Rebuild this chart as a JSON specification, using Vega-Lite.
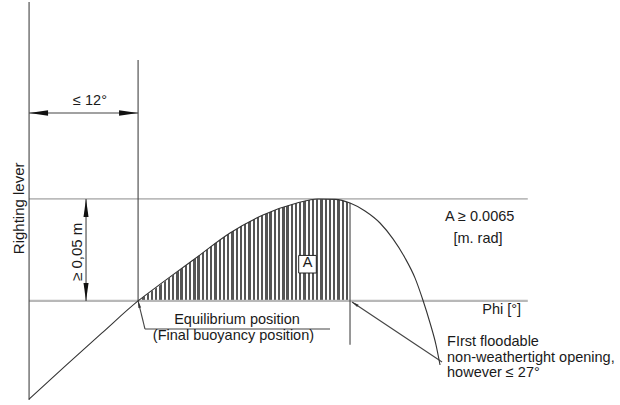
{
  "$schema": "https://vega.github.io/schema/vega-lite/v6.json",
  "width": 620,
  "height": 405,
  "autosize": {"type": "fit", "contains": "padding"},
  "padding": 0,
  "background": "white",
  "config": {"view": {"stroke": null}, "font": "Liberation Sans"},
  "encoding": {
    "x": {"field": "phi", "type": "quantitative", "scale": {"domain": [-3.2, 65.05], "nice": false, "zero": false}, "axis": null},
    "y": {"field": "gz", "type": "quantitative", "scale": {"domain": [-0.051, 0.1475], "nice": false, "zero": false}, "axis": null}
  },
  "layer": [
    {
      "data": {"values": [
        {"phi": 12, "gz": 0}, {"phi": 14.74, "gz": 0.0088}, {"phi": 18.49, "gz": 0.0215}, {"phi": 22.12, "gz": 0.0333},
        {"phi": 25.75, "gz": 0.0421}, {"phi": 29.49, "gz": 0.048}, {"phi": 31.8, "gz": 0.05}, {"phi": 33.68, "gz": 0.0498}, {"phi": 35.33, "gz": 0.048}
      ]},
      "mark": {"type": "area", "interpolate": "monotone", "color": {"gradient": "linear", "x1": 0, "y1": 0, "x2": 1, "y2": 0, "stops": [
        {"offset":0,"color":"#555"},{"offset":0.011,"color":"#555"},{"offset":0.011,"color":"#fff"},{"offset":0.02,"color":"#fff"},
        {"offset":0.02,"color":"#555"},{"offset":0.031,"color":"#555"},{"offset":0.031,"color":"#fff"},{"offset":0.04,"color":"#fff"},
        {"offset":0.04,"color":"#555"},{"offset":0.051,"color":"#555"},{"offset":0.051,"color":"#fff"},{"offset":0.06,"color":"#fff"},
        {"offset":0.06,"color":"#555"},{"offset":0.071,"color":"#555"},{"offset":0.071,"color":"#fff"},{"offset":0.08,"color":"#fff"},
        {"offset":0.08,"color":"#555"},{"offset":0.091,"color":"#555"},{"offset":0.091,"color":"#fff"},{"offset":0.1,"color":"#fff"},
        {"offset":0.1,"color":"#555"},{"offset":0.111,"color":"#555"},{"offset":0.111,"color":"#fff"},{"offset":0.12,"color":"#fff"},
        {"offset":0.12,"color":"#555"},{"offset":0.131,"color":"#555"},{"offset":0.131,"color":"#fff"},{"offset":0.14,"color":"#fff"},
        {"offset":0.14,"color":"#555"},{"offset":0.151,"color":"#555"},{"offset":0.151,"color":"#fff"},{"offset":0.16,"color":"#fff"},
        {"offset":0.16,"color":"#555"},{"offset":0.171,"color":"#555"},{"offset":0.171,"color":"#fff"},{"offset":0.18,"color":"#fff"},
        {"offset":0.18,"color":"#555"},{"offset":0.191,"color":"#555"},{"offset":0.191,"color":"#fff"},{"offset":0.2,"color":"#fff"},
        {"offset":0.2,"color":"#555"},{"offset":0.211,"color":"#555"},{"offset":0.211,"color":"#fff"},{"offset":0.22,"color":"#fff"},
        {"offset":0.22,"color":"#555"},{"offset":0.231,"color":"#555"},{"offset":0.231,"color":"#fff"},{"offset":0.24,"color":"#fff"},
        {"offset":0.24,"color":"#555"},{"offset":0.251,"color":"#555"},{"offset":0.251,"color":"#fff"},{"offset":0.26,"color":"#fff"},
        {"offset":0.26,"color":"#555"},{"offset":0.271,"color":"#555"},{"offset":0.271,"color":"#fff"},{"offset":0.28,"color":"#fff"},
        {"offset":0.28,"color":"#555"},{"offset":0.291,"color":"#555"},{"offset":0.291,"color":"#fff"},{"offset":0.3,"color":"#fff"},
        {"offset":0.3,"color":"#555"},{"offset":0.311,"color":"#555"},{"offset":0.311,"color":"#fff"},{"offset":0.32,"color":"#fff"},
        {"offset":0.32,"color":"#555"},{"offset":0.331,"color":"#555"},{"offset":0.331,"color":"#fff"},{"offset":0.34,"color":"#fff"},
        {"offset":0.34,"color":"#555"},{"offset":0.351,"color":"#555"},{"offset":0.351,"color":"#fff"},{"offset":0.36,"color":"#fff"},
        {"offset":0.36,"color":"#555"},{"offset":0.371,"color":"#555"},{"offset":0.371,"color":"#fff"},{"offset":0.38,"color":"#fff"},
        {"offset":0.38,"color":"#555"},{"offset":0.391,"color":"#555"},{"offset":0.391,"color":"#fff"},{"offset":0.4,"color":"#fff"},
        {"offset":0.4,"color":"#555"},{"offset":0.411,"color":"#555"},{"offset":0.411,"color":"#fff"},{"offset":0.42,"color":"#fff"},
        {"offset":0.42,"color":"#555"},{"offset":0.431,"color":"#555"},{"offset":0.431,"color":"#fff"},{"offset":0.44,"color":"#fff"},
        {"offset":0.44,"color":"#555"},{"offset":0.451,"color":"#555"},{"offset":0.451,"color":"#fff"},{"offset":0.46,"color":"#fff"},
        {"offset":0.46,"color":"#555"},{"offset":0.471,"color":"#555"},{"offset":0.471,"color":"#fff"},{"offset":0.48,"color":"#fff"},
        {"offset":0.48,"color":"#555"},{"offset":0.491,"color":"#555"},{"offset":0.491,"color":"#fff"},{"offset":0.5,"color":"#fff"},
        {"offset":0.5,"color":"#555"},{"offset":0.511,"color":"#555"},{"offset":0.511,"color":"#fff"},{"offset":0.52,"color":"#fff"},
        {"offset":0.52,"color":"#555"},{"offset":0.531,"color":"#555"},{"offset":0.531,"color":"#fff"},{"offset":0.54,"color":"#fff"},
        {"offset":0.54,"color":"#555"},{"offset":0.551,"color":"#555"},{"offset":0.551,"color":"#fff"},{"offset":0.56,"color":"#fff"},
        {"offset":0.56,"color":"#555"},{"offset":0.571,"color":"#555"},{"offset":0.571,"color":"#fff"},{"offset":0.58,"color":"#fff"},
        {"offset":0.58,"color":"#555"},{"offset":0.591,"color":"#555"},{"offset":0.591,"color":"#fff"},{"offset":0.6,"color":"#fff"},
        {"offset":0.6,"color":"#555"},{"offset":0.611,"color":"#555"},{"offset":0.611,"color":"#fff"},{"offset":0.62,"color":"#fff"},
        {"offset":0.62,"color":"#555"},{"offset":0.631,"color":"#555"},{"offset":0.631,"color":"#fff"},{"offset":0.64,"color":"#fff"},
        {"offset":0.64,"color":"#555"},{"offset":0.651,"color":"#555"},{"offset":0.651,"color":"#fff"},{"offset":0.66,"color":"#fff"},
        {"offset":0.66,"color":"#555"},{"offset":0.671,"color":"#555"},{"offset":0.671,"color":"#fff"},{"offset":0.68,"color":"#fff"},
        {"offset":0.68,"color":"#555"},{"offset":0.691,"color":"#555"},{"offset":0.691,"color":"#fff"},{"offset":0.7,"color":"#fff"},
        {"offset":0.7,"color":"#555"},{"offset":0.711,"color":"#555"},{"offset":0.711,"color":"#fff"},{"offset":0.72,"color":"#fff"},
        {"offset":0.72,"color":"#555"},{"offset":0.731,"color":"#555"},{"offset":0.731,"color":"#fff"},{"offset":0.74,"color":"#fff"},
        {"offset":0.74,"color":"#555"},{"offset":0.751,"color":"#555"},{"offset":0.751,"color":"#fff"},{"offset":0.76,"color":"#fff"},
        {"offset":0.76,"color":"#555"},{"offset":0.771,"color":"#555"},{"offset":0.771,"color":"#fff"},{"offset":0.78,"color":"#fff"},
        {"offset":0.78,"color":"#555"},{"offset":0.791,"color":"#555"},{"offset":0.791,"color":"#fff"},{"offset":0.8,"color":"#fff"},
        {"offset":0.8,"color":"#555"},{"offset":0.811,"color":"#555"},{"offset":0.811,"color":"#fff"},{"offset":0.82,"color":"#fff"},
        {"offset":0.82,"color":"#555"},{"offset":0.831,"color":"#555"},{"offset":0.831,"color":"#fff"},{"offset":0.84,"color":"#fff"},
        {"offset":0.84,"color":"#555"},{"offset":0.851,"color":"#555"},{"offset":0.851,"color":"#fff"},{"offset":0.86,"color":"#fff"},
        {"offset":0.86,"color":"#555"},{"offset":0.871,"color":"#555"},{"offset":0.871,"color":"#fff"},{"offset":0.88,"color":"#fff"},
        {"offset":0.88,"color":"#555"},{"offset":0.891,"color":"#555"},{"offset":0.891,"color":"#fff"},{"offset":0.9,"color":"#fff"},
        {"offset":0.9,"color":"#555"},{"offset":0.911,"color":"#555"},{"offset":0.911,"color":"#fff"},{"offset":0.92,"color":"#fff"},
        {"offset":0.92,"color":"#555"},{"offset":0.931,"color":"#555"},{"offset":0.931,"color":"#fff"},{"offset":0.94,"color":"#fff"},
        {"offset":0.94,"color":"#555"},{"offset":0.951,"color":"#555"},{"offset":0.951,"color":"#fff"},{"offset":0.96,"color":"#fff"},
        {"offset":0.96,"color":"#555"},{"offset":0.971,"color":"#555"},{"offset":0.971,"color":"#fff"},{"offset":0.98,"color":"#fff"},
        {"offset":0.98,"color":"#555"},{"offset":0.991,"color":"#555"},{"offset":0.991,"color":"#fff"},{"offset":1,"color":"#fff"}
      ]}},
      "encoding": {"y2": {"datum": 0}}
    },
    {
      "data": {"values": [
        {"phi": 0, "gz": 0, "phi2": 54.9, "gz2": 0}
      ]},
      "mark": {"type": "rule", "color": "#b8b8b8", "strokeWidth": 2.3},
      "encoding": {"x2": {"field": "phi2"}, "y2": {"field": "gz2"}}
    },
    {
      "data": {"values": [
        {"phi": 0, "gz": 0.05, "phi2": 54.9, "gz2": 0.05}
      ]},
      "mark": {"type": "rule", "color": "#8a8a8a", "strokeWidth": 1},
      "encoding": {"x2": {"field": "phi2"}, "y2": {"field": "gz2"}}
    },
    {
      "data": {"values": [
        {"phi": 0, "gz": 0.1465, "phi2": 0, "gz2": -0.0485},
        {"phi": 12, "gz": 0.1181, "phi2": 12, "gz2": 0},
        {"phi": 35.33, "gz": 0.048, "phi2": 35.33, "gz2": -0.0215},
        {"phi": 0, "gz": 0.0921, "phi2": 12, "gz2": 0.0921},
        {"phi": 6.27, "gz": 0.05, "phi2": 6.27, "gz2": 0},
        {"phi": 12, "gz": 0, "phi2": 12.76, "gz2": -0.01375},
        {"phi": 12.76, "gz": -0.01375, "phi2": 33.13, "gz2": -0.01375},
        {"phi": 35.55, "gz": -0.0005, "phi2": 45.46, "gz2": -0.0299}
      ]},
      "mark": {"type": "rule", "color": "#444", "strokeWidth": 1.1},
      "encoding": {"x2": {"field": "phi2"}, "y2": {"field": "gz2"}}
    },
    {
      "data": {"values": [
        {"phi": 0, "gz": -0.0481}, {"phi": 4, "gz": -0.0318}, {"phi": 8, "gz": -0.0158},
        {"phi": 12, "gz": 0}, {"phi": 14.74, "gz": 0.0092}, {"phi": 18.49, "gz": 0.0215}, {"phi": 22.12, "gz": 0.0333},
        {"phi": 25.75, "gz": 0.0421}, {"phi": 29.49, "gz": 0.048}, {"phi": 31.8, "gz": 0.05}, {"phi": 33.68, "gz": 0.0498},
        {"phi": 35.33, "gz": 0.048}, {"phi": 36.98, "gz": 0.0441}, {"phi": 38.63, "gz": 0.0382}, {"phi": 40.06, "gz": 0.0304},
        {"phi": 41.38, "gz": 0.0211}, {"phi": 42.48, "gz": 0.0113}, {"phi": 43.37, "gz": 0.0002}, {"phi": 44.14, "gz": -0.0108},
        {"phi": 44.8, "gz": -0.0216}, {"phi": 45.24, "gz": -0.0314}
      ]},
      "mark": {"type": "line", "interpolate": "monotone", "color": "#333", "strokeWidth": 1.1}
    },
    {
      "data": {"values": [{"phi": 0, "gz": 0.0921}]},
      "mark": {"type": "point", "shape": "M0,0L2,-0.28L2,0.28Z", "size": 361, "filled": true, "color": "#111", "opacity": 1, "angle": 0}
    },
    {
      "data": {"values": [{"phi": 12, "gz": 0.0921}]},
      "mark": {"type": "point", "shape": "M0,0L2,-0.28L2,0.28Z", "size": 361, "filled": true, "color": "#111", "opacity": 1, "angle": 180}
    },
    {
      "data": {"values": [{"phi": 6.27, "gz": 0.05}]},
      "mark": {"type": "point", "shape": "M0,0L2,-0.28L2,0.28Z", "size": 324, "filled": true, "color": "#111", "opacity": 1, "angle": 90}
    },
    {
      "data": {"values": [{"phi": 6.27, "gz": 0}]},
      "mark": {"type": "point", "shape": "M0,0L2,-0.28L2,0.28Z", "size": 324, "filled": true, "color": "#111", "opacity": 1, "angle": 270}
    },
    {
      "data": {"values": [{"phi": 12, "gz": 0}]},
      "mark": {"type": "point", "shape": "M0,0L2,-0.4L2,0.4Z", "size": 49, "filled": true, "color": "#333", "opacity": 1, "angle": 76}
    },
    {
      "data": {"values": [{"phi": 35.55, "gz": -0.0005}]},
      "mark": {"type": "point", "shape": "M0,0L2,-0.4L2,0.4Z", "size": 49, "filled": true, "color": "#333", "opacity": 1, "angle": 33.7}
    },
    {
      "data": {"values": [{"phi": 30.65, "gz": 0.018}]},
      "mark": {"type": "point", "shape": "square", "size": 310, "filled": true, "fill": "white", "stroke": "#222", "strokeWidth": 1, "opacity": 1}
    },
    {
      "data": {"values": [
        {"phi": 6.71, "gz": 0.0982, "label": "≤ 12°"},
        {"phi": 22.89, "gz": -0.0094, "label": "Equilibrium position"},
        {"phi": 22.5, "gz": -0.0170, "label": "(Final buoyancy position)"},
        {"phi": 49.61, "gz": 0.041, "label": "A ≥ 0.0065"},
        {"phi": 49.42, "gz": 0.0306, "label": "[m. rad]"},
        {"phi": 52.03, "gz": -0.0046, "label": "Phi [°]"},
        {"phi": 30.65, "gz": 0.0184, "label": "A"}
      ]},
      "mark": {"type": "text", "align": "center", "baseline": "middle", "fontSize": 14.5, "color": "#1a1a1a"},
      "encoding": {"text": {"field": "label"}}
    },
    {
      "data": {"values": [
        {"phi": 46.01, "gz": -0.0201, "label": "FIrst floodable"},
        {"phi": 46.01, "gz": -0.0278, "label": "non-weathertight opening,"},
        {"phi": 46.01, "gz": -0.0354, "label": "however ≤ 27°"}
      ]},
      "mark": {"type": "text", "align": "left", "baseline": "middle", "fontSize": 14.5, "color": "#1a1a1a"},
      "encoding": {"text": {"field": "label"}}
    },
    {
      "data": {"values": [
        {"phi": 5.25, "gz": 0.0241, "label": "≥ 0,05 m"},
        {"phi": -1.11, "gz": 0.0454, "label": "Righting lever"}
      ]},
      "mark": {"type": "text", "align": "center", "baseline": "middle", "fontSize": 15, "angle": 270, "color": "#1a1a1a"},
      "encoding": {"text": {"field": "label"}}
    }
  ]
}
